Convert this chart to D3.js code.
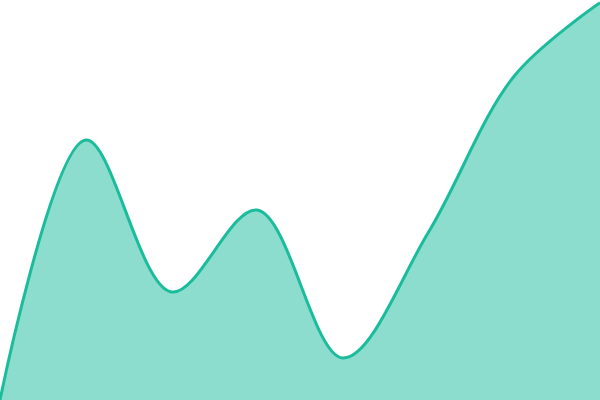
<!DOCTYPE html>
<html lang="en">
<head>
<meta charset="UTF-8">
<title>Area</title>
<script src="https://cdn.jsdelivr.net/npm/d3@7"></script>
<style>
body{margin:0;background:#fff;}
</style>
</head>
<body>
<script>
var labels = [0, 1, 2, 3, 4, 5, 6, 7];
var values = [0, 65, 27, 47.5, 10.5, 42, 81, 99.3];

var width = 600, height = 400;
var svg = d3.select("body").append("svg").attr("width", width).attr("height", height);

var x = d3.scaleLinear().domain([0, labels.length - 1]).range([0, width]);
var y = d3.scaleLinear().domain([0, 100]).range([height, 0]);

var area = d3.area()
  .x(function(d, i){ return x(labels[i]); })
  .y0(height)
  .y1(function(d){ return y(d); })
  .curve(d3.curveCatmullRom);

var line = d3.line()
  .x(function(d, i){ return x(labels[i]); })
  .y(function(d){ return y(d); })
  .curve(d3.curveCatmullRom);

svg.append("path").datum(values).attr("d", area)
  .attr("fill", "#1abc9c").attr("fill-opacity", 0.5);
svg.append("path").datum(values).attr("d", line)
  .attr("fill", "none").attr("stroke", "#1abc9c").attr("stroke-width", 3);
</script>
</body>
</html>
